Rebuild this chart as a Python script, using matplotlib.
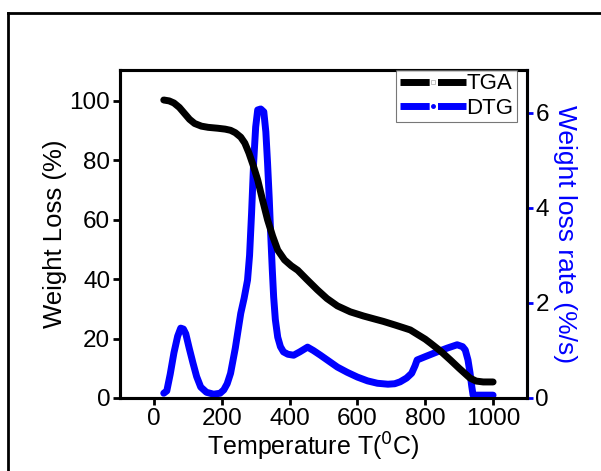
import matplotlib
matplotlib.use("Agg")
import matplotlib.pyplot as plt
from matplotlib.lines import Line2D

plt.rcParams['font.family'] = ['Liberation Sans', 'DejaVu Sans']

#%%-------------------- data ---------------------------------------------------
tga_T = [29, 45, 59, 75, 90, 105, 120, 140, 160, 188, 210, 226, 240, 256, 268,
         280, 293, 306, 320, 335, 350, 365, 385, 405, 424, 450, 482, 510, 541,
         579, 618, 650, 676, 710, 740, 756, 780, 800, 815, 845, 874, 900, 932,
         950, 971, 1000]
tga_W = [100.3, 100.0, 99.3, 97.8, 95.8, 93.8, 92.4, 91.5, 91.1, 90.8, 90.5,
         90.1, 89.3, 87.8, 85.8, 82.5, 78.2, 73.4, 66.8, 60.0, 54.5, 49.8,
         46.5, 44.5, 43.0, 40.0, 36.4, 33.5, 31.0, 29.0, 27.6, 26.6, 25.8,
         24.6, 23.5, 22.9, 21.2, 19.8, 18.5, 15.8, 12.8, 10.0, 6.7, 5.7, 5.4,
         5.4]

dtg_T = [29, 38, 48, 59, 70, 79, 87, 94, 104, 115, 126, 138, 155, 176, 195,
         206, 216, 226, 240, 256, 266, 276, 282, 288, 294, 300, 306, 315, 324,
         330, 335, 340, 344, 349, 353, 358, 365, 373, 382, 395, 412, 430, 453,
         470, 491, 515, 541, 570, 600, 630, 659, 690, 710, 726, 745, 760, 770,
         776, 800, 835, 865, 894, 910, 918, 926, 932, 937, 941, 1000]
dtg_D = [0.1, 0.15, 0.5, 0.95, 1.3, 1.47, 1.45, 1.35, 1.05, 0.74, 0.45, 0.23,
         0.12, 0.08, 0.1, 0.17, 0.3, 0.52, 1.05, 1.78, 2.1, 2.48, 3.0, 3.9,
         4.95, 5.7, 6.06, 6.08, 6.02, 5.6, 4.95, 4.2, 3.5, 2.7, 2.13, 1.65,
         1.28, 1.08, 0.97, 0.92, 0.9, 0.97, 1.07, 1.0, 0.9, 0.78, 0.65, 0.54,
         0.44, 0.36, 0.31, 0.29, 0.3, 0.34, 0.42, 0.52, 0.68, 0.8, 0.87, 0.97,
         1.05, 1.12, 1.08, 1.01, 0.8, 0.53, 0.25, 0.06, 0.06]

#%%-------------------- figure --------------------------------------------------
fig = plt.figure(figsize=(6.01, 4.71), dpi=100)
ax = fig.add_axes([120/601, 1-398/471, 407/601, 328/471])
ax2 = ax.twinx()

ax.plot(tga_T, tga_W, color='black', lw=5, solid_capstyle='round',
        solid_joinstyle='round', zorder=2)
ax2.plot(dtg_T, dtg_D, color='#0000ff', lw=5, solid_capstyle='round',
         solid_joinstyle='round', zorder=3)

ax.set_xlim(-100, 1100)
ax.set_ylim(0, 110.4)
ax2.set_ylim(0, 6.9)
ax.set_xticks([0, 200, 400, 600, 800, 1000])
ax.set_yticks([0, 20, 40, 60, 80, 100])
ax2.set_yticks([0, 2, 4, 6])

fs = 17.5
ax.set_xlabel(r"Temperature T($^{0}$C)", fontsize=18, labelpad=3)
ax.xaxis.set_label_coords(0.474, -0.10)
ax.set_ylabel("Weight Loss (%)", fontsize=18.5, labelpad=2)
ax2.set_ylabel("Weight loss rate (%/s)", fontsize=19, color='#0000ff',
               rotation=-90, labelpad=20)

for a in (ax, ax2):
    a.tick_params(labelsize=fs, width=2, length=5, direction='out', pad=2)
    for s in a.spines.values():
        s.set_linewidth(2.2)
ax2.spines['right'].set_color('#0000ff')
ax2.tick_params(axis='y', color='#0000ff', length=4)

ax.set_zorder(ax2.get_zorder() + 1)
ax.patch.set_visible(False)

# legend, Origin style
h1 = Line2D([0], [0], color='black', lw=5, linestyle=(0, (4.2, 1.2)),
            marker='s', markersize=3, markerfacecolor='white',
            markeredgecolor='#aaaaaa', markeredgewidth=0.5)
h2 = Line2D([0], [0], color='#0000ff', lw=5, linestyle=(0, (4.2, 1.2)),
            marker='o', markersize=2.5, markerfacecolor='#0000ff',
            markeredgecolor='#0000ff')
leg = ax.legend([h1, h2], ["TGA", "DTG"], loc='upper right', fontsize=16,
                frameon=True, fancybox=False, borderaxespad=0.0,
                bbox_to_anchor=(0.975, 1.0), handlelength=3.0,
                handletextpad=0.0, borderpad=0.15, labelspacing=0.15)
leg.get_frame().set_edgecolor('#555555')
leg.get_frame().set_linewidth(0.8)

# outer frame of the panel
fig.add_artist(Line2D([8/601, 8/601], [0, 1-13/471], color='black', lw=2,
                      transform=fig.transFigure))
fig.add_artist(Line2D([8/601, 1], [1-13/471, 1-13/471], color='black', lw=2,
                      transform=fig.transFigure))
fig.text(0.47, 1+7/471, "(a)", fontsize=fs, ha='center', va='baseline')

fig.savefig("out.png", dpi=100)
